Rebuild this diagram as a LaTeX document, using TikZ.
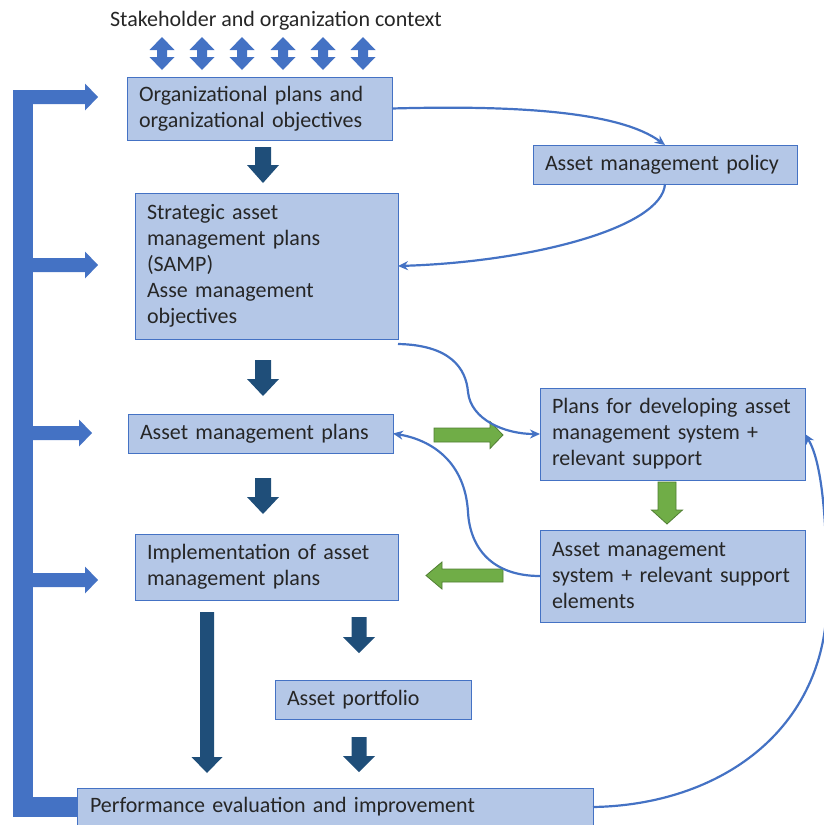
\documentclass[tikz,border=0pt]{standalone}
\usepackage{fontspec}
\setmainfont{Carlito}
\usetikzlibrary{arrows.meta}

\definecolor{boxfill}{HTML}{B4C7E7}
\definecolor{boxline}{HTML}{4472C4}
\definecolor{linkblue}{HTML}{4472C4}
\definecolor{navy}{HTML}{1F4E79}
\definecolor{leaf}{HTML}{70AD47}
\definecolor{leafline}{HTML}{507E32}
\definecolor{ink}{HTML}{262626}

\tikzset{
  stage/.style={draw=boxline, fill=boxfill, line width=1pt, inner xsep=12pt,
    inner ysep=0pt, outer sep=0pt, align=left, text=ink,
    font=\fontsize{22}{26}\selectfont},
  link/.style={draw=linkblue, line width=2.2pt, -{Stealth[length=10pt,width=9pt]}},
  navyblock/.style={fill=navy},
  leafblock/.style={fill=leaf, draw=leafline, line width=0.8pt},
  barblock/.style={fill=linkblue},
}

% block arrow pointing down: style, centre x, top, head base, tip, shaft half, head half
\newcommand\blockdown[7]{\path[#1] (#2-#6,#3) -- (#2+#6,#3) -- (#2+#6,#4) -- (#2+#7,#4)
  -- (#2,#5) -- (#2-#7,#4) -- (#2-#6,#4) -- cycle;}
% block arrow pointing right: style, centre y, tail, head base, tip, shaft half, head half
\newcommand\blockright[7]{\path[#1] (#3,#2-#6) -- (#4,#2-#6) -- (#4,#2-#7) -- (#5,#2)
  -- (#4,#2+#7) -- (#4,#2+#6) -- (#3,#2+#6) -- cycle;}
% two-headed vertical block arrow: centre x
\newcommand\blockupdown[1]{\path[barblock] (#1,37) -- (#1+12.5,50) -- (#1+5,50) -- (#1+5,57)
  -- (#1+12.5,57) -- (#1,70) -- (#1-12.5,57) -- (#1-5,57) -- (#1-5,50) -- (#1-12.5,50) -- cycle;}

\begin{document}
\begin{tikzpicture}[x=1pt, y=-1pt]
\useasboundingbox (0,0) rectangle (824,825);

% feedback bar on the left
\fill[barblock] (13,90) rectangle (33,817);
\fill[barblock] (13,797) rectangle (80,817);
\foreach \yy/\tip in {97/98, 265/98, 433/92, 580/98}{
  \blockright{barblock}{\yy}{30}{\tip-13}{\tip}{7}{13.5}
}

% context arrows
\node[text=ink, font=\fontsize{22}{26}\selectfont, inner sep=0pt] (ctx) at (276,21)
  {Stakeholder and organization context};
\foreach \cx in {162,202,242,283,323,363}{\blockupdown{\cx}}

% boxes
\node[stage, text width=241pt, minimum height=63pt] (org) at (259.5,108.5)
  {Organizational plans and\\organizational objectives};
\node[stage, text width=240pt, minimum height=39pt] (policy) at (665,164.5)
  {Asset management policy};
\node[stage, text width=239pt, minimum height=146pt] (samp) at (266.5,266)
  {Strategic asset\\management plans\\(SAMP)\\Asse management\\objectives};
\node[stage, text width=241pt, minimum height=39pt] (amp) at (260.5,433.5)
  {Asset management plans};
\node[stage, text width=239pt, minimum height=66pt] (impl) at (266.5,567)
  {Implementation of asset\\management plans};
\node[stage, text width=172pt, minimum height=39pt] (port) at (373,699.5)
  {Asset portfolio};
\node[stage, text width=241pt, minimum height=92pt] (plans) at (672.5,434)
  {Plans for developing asset\\management system +\\relevant support};
\node[stage, text width=241pt, minimum height=92pt] (ams) at (672.5,576)
  {Asset management\\system + relevant support\\elements};
\node[stage, text width=490pt, inner xsep=13pt, minimum height=38pt] (perf) at (335,807)
  {Performance evaluation and improvement};

% main flow
\blockdown{navyblock}{263}{147}{165}{183}{8}{16}
\blockdown{navyblock}{263}{360}{379}{396}{8}{16}
\blockdown{navyblock}{263}{478}{497}{514}{8}{16}
\blockdown{navyblock}{207}{612}{757}{773}{7}{15.5}
\blockdown{navyblock}{359}{617}{637}{653}{7.5}{16}
\blockdown{navyblock}{359}{737}{756}{772}{7.5}{16}

% support flow
\blockright{leafblock}{435}{434}{490}{503}{7}{13.5}
\blockdown{leafblock}{667}{482}{510}{524}{9}{15.5}
\blockright{leafblock}{575.5}{503}{442}{426}{6.5}{13.5}

% links
\draw[link] (org.east) .. controls (520,105) and (620,112) .. (policy.north);
\draw[link] (policy.south) .. controls (662,228) and (530,262) .. (samp.east);
\draw[link] ([yshift=-5pt]samp.south east) .. controls (450,345) and (466,368) .. (468,392)
  .. controls (471,420) and (505,434) .. (plans.west);
\draw[link] (ams.west) .. controls (492,576) and (470,548) .. (468,512)
  .. controls (465,462) and (432,440) .. (amp.east);
\draw[link] (perf.east) .. controls (720,805) and (826,730) .. (827,600)
  .. controls (827,520) and (822,462) .. (plans.east);
\end{tikzpicture}
\end{document}
